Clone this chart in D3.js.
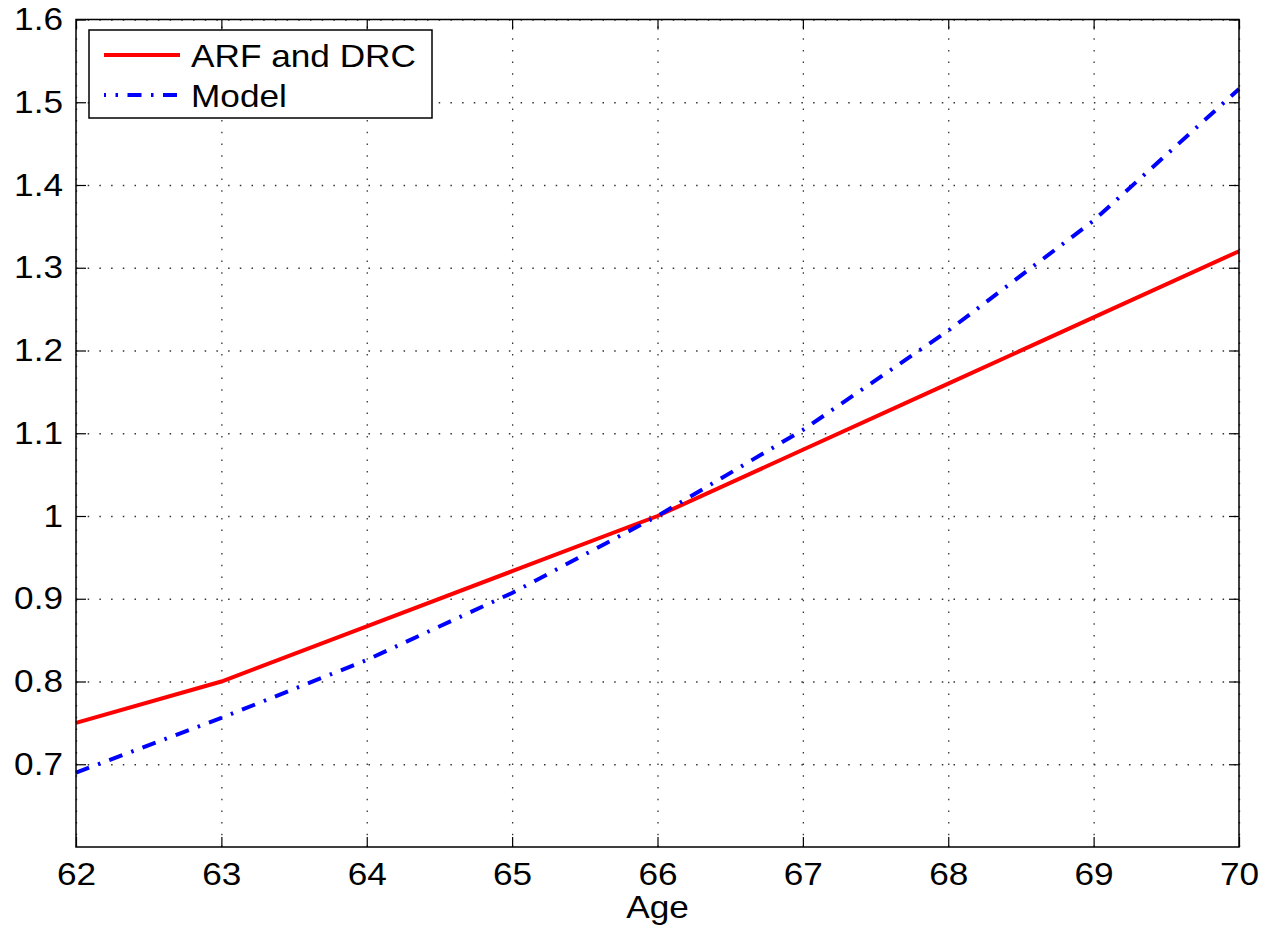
<!DOCTYPE html>
<html>
<head>
<meta charset="utf-8">
<script src="https://cdn.jsdelivr.net/npm/d3@7"></script>
<style>
  html, body { margin: 0; padding: 0; background: #fff; }
  svg { display: block; }
  text { font-family: "Liberation Sans", Arial, Helvetica, sans-serif; fill: #000; }
</style>
</head>
<body>
<svg id="chart" width="1266" height="929"></svg>
<script>
// Benefit adjustment factor by claiming age
const ages = [62, 63, 64, 65, 66, 67, 68, 69, 70];
const arfDrc = [0.75, 0.80, 0.8667, 0.9333, 1.00, 1.08, 1.16, 1.24, 1.32];
const model = [0.69, 0.756, 0.826, 0.907, 1.00, 1.104, 1.224, 1.357, 1.516];
const yTicks = [0.7, 0.8, 0.9, 1.0, 1.1, 1.2, 1.3, 1.4, 1.5, 1.6];
const seriesNames = ["ARF and DRC", "Model"];
const xLabel = "Age";

const margin = { left: 76, top: 19.5, right: 27, bottom: 82 };
const W = 1266, H = 929;
const w = W - margin.left - margin.right;
const h = H - margin.top - margin.bottom;
const FS = 32, SX = 1.1;

const svg = d3.select("#chart");
const g = svg.append("g").attr("transform", `translate(${margin.left},${margin.top})`);

const x = d3.scaleLinear().domain([62, 70]).range([0, w]);
const y = d3.scaleLinear().domain([0.6, 1.6]).range([h, 0]);

// dotted grid
const grid = g.append("g").attr("class", "grid");
grid.append("g").attr("transform", `translate(0,${h})`)
  .call(d3.axisBottom(x).tickValues(ages).tickSize(-h).tickFormat(""));
grid.append("g")
  .call(d3.axisLeft(y).tickValues(yTicks).tickSize(-w).tickFormat(""));
grid.selectAll(".domain").remove();
grid.selectAll("line")
  .attr("stroke", "#333").attr("stroke-width", 1.3)
  .attr("stroke-dasharray", "1.5 10.2");

// series lines
const line = d3.line().x((d, i) => x(ages[i])).y(d => y(d));
g.append("path").datum(arfDrc)
  .attr("d", line).attr("fill", "none")
  .attr("stroke", "#ff0000").attr("stroke-width", 4);
g.append("path").datum(model)
  .attr("d", line).attr("fill", "none")
  .attr("stroke", "#0000ff").attr("stroke-width", 4)
  .attr("stroke-dasharray", "14 9.5 2.5 9.5");

// axes with inward ticks on all four sides
const tickLen = 10;
const bottom = g.append("g").attr("transform", `translate(0,${h})`)
  .call(d3.axisBottom(x).tickValues(ages).tickSizeInner(-tickLen).tickSizeOuter(0).tickPadding(15).tickFormat(d3.format("d")));
const left = g.append("g")
  .call(d3.axisLeft(y).tickValues(yTicks).tickSizeInner(-tickLen).tickSizeOuter(0).tickPadding(13)
    .tickFormat(d => d === 1 ? "1" : d3.format(".1f")(d)));
g.append("g")
  .call(d3.axisTop(x).tickValues(ages).tickSizeInner(-tickLen).tickSizeOuter(0).tickFormat(""));
g.append("g").attr("transform", `translate(${w},0)`)
  .call(d3.axisRight(y).tickValues(yTicks).tickSizeInner(-tickLen).tickSizeOuter(0).tickFormat(""));

g.selectAll(".tick line").filter(function () { return !this.closest(".grid"); })
  .attr("stroke", "#000").attr("stroke-width", 1.2);
g.selectAll(".domain").attr("stroke", "none");

bottom.selectAll("text")
  .attr("font-size", FS).attr("transform", `scale(${SX},1)`);
left.selectAll("text")
  .attr("font-size", FS)
  .attr("x", -13 / SX)
  .attr("transform", `scale(${SX},1)`);

// plot frame
g.append("rect").attr("x", 0).attr("y", 0).attr("width", w).attr("height", h)
  .attr("fill", "none").attr("stroke", "#000").attr("stroke-width", 1.5);

// axis title
svg.append("text")
  .attr("transform", `translate(${margin.left + w / 2},918) scale(${SX},1)`)
  .attr("text-anchor", "middle").attr("font-size", FS)
  .text(xLabel);

// legend
const lg = svg.append("g").attr("transform", "translate(89,30)");
lg.append("rect").attr("width", 343).attr("height", 88)
  .attr("fill", "#fff").attr("stroke", "#000").attr("stroke-width", 1.5);
const legendStyles = [
  { color: "#ff0000", dash: null, offset: 0 },
  { color: "#0000ff", dash: "14 9.5 2.5 9.5", offset: 12 }
];
seriesNames.forEach((name, i) => {
  const cy = 25 + i * 40;
  lg.append("line")
    .attr("x1", 15).attr("x2", 91).attr("y1", cy).attr("y2", cy)
    .attr("stroke", legendStyles[i].color).attr("stroke-width", 4)
    .attr("stroke-dasharray", legendStyles[i].dash)
    .attr("stroke-dashoffset", legendStyles[i].offset);
  lg.append("text")
    .attr("transform", `translate(102,${cy + 11.7}) scale(${SX},1)`)
    .attr("font-size", FS)
    .text(name);
});
</script>
</body>
</html>
